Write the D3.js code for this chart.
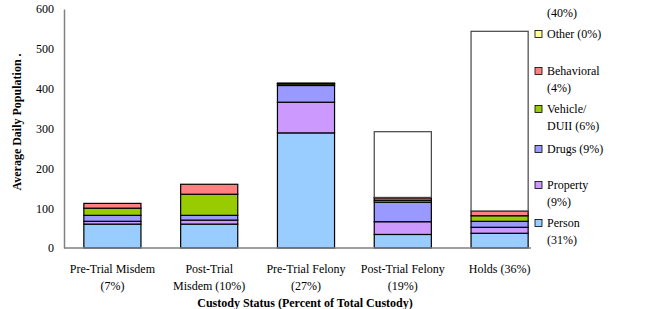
<!DOCTYPE html>
<html><head><meta charset="utf-8">
<script src="https://cdn.jsdelivr.net/npm/d3@7"></script>
<style>body{margin:0;background:#fff}svg{display:block}text{font-family:"Liberation Serif","Times New Roman",serif;}</style>
</head><body><div id="chart"></div>
<script>
const categories = ["Pre-Trial Misdem (7%)","Post-Trial Misdem (10%)","Pre-Trial Felony (27%)","Post-Trial Felony (19%)","Holds (36%)"];
const categoryLines = [["Pre-Trial Misdem","(7%)"],["Post-Trial","Misdem (10%)"],["Pre-Trial Felony","(27%)"],["Post-Trial Felony","(19%)"],["Holds (36%)"]];
const seriesNames = ["Person","Property","Drugs","Vehicle/DUII","Behavioral","Other","Unknown"];
const legendLines = [["Person","(31%)"],["Property","(9%)"],["Drugs (9%)"],["Vehicle/","DUII (6%)"],["Behavioral","(4%)"],["Other (0%)"],["(40%)"]];
const person     = [60, 60, 289, 34, 37];
const property   = [7, 10, 77, 32, 15];
const drugs      = [15, 12, 42, 49, 15];
const vehicle    = [18, 53, 4, 5, 14];
const behavioral = [12, 25, 1, 6, 12];
const other      = [0, 0, 1, 1, 0];
const unknown    = [0, 0, 0, 165, 451];
const yTicks = [0,100,200,300,400,500,600];
const colors = ["#99CCFF","#CC99FF","#9999FF","#99CC00","#FF8080","#FFFF99","#FFFFFF"];

const W=668,H=309;
const svg=d3.select("#chart").append("svg").attr("width",W).attr("height",H);
const series=[person,property,drugs,vehicle,behavioral,other,unknown];
const table=categories.map((c,i)=>{const o={cat:c};seriesNames.forEach((s,j)=>o[s]=series[j][i]);return o;});
const stack=d3.stack().keys(seriesNames)(table);

const y=d3.scaleLinear().domain([0,600]).range([248,9]);
const x=d3.scaleBand().domain(categories).range([64,548]).paddingInner(0.41).paddingOuter(0.205);

// bars
stack.forEach((layer,j)=>{
  svg.append("g").selectAll("rect").data(layer.filter(d=>d[1]-d[0]>0)).join("rect")
    .attr("x",d=>x(d.data.cat)).attr("width",x.bandwidth())
    .attr("y",d=>y(d[1])).attr("height",d=>y(d[0])-y(d[1]))
    .attr("fill",colors[j]).attr("stroke",j===6?"#444":"#000").attr("stroke-width",1.2);
});

// axes
const yAxis=d3.axisLeft(y).tickValues(yTicks).tickSize(0).tickPadding(10);
const gy=svg.append("g").attr("transform","translate(64,0)").call(yAxis);
gy.attr("font-family",null);
gy.select(".domain").attr("stroke","#808080").attr("stroke-width",1.5);
gy.selectAll("text").attr("font-size",12).attr("fill","#000");
svg.append("line").attr("x1",64).attr("x2",531).attr("y1",y(0)).attr("y2",y(0)).attr("stroke","#808080").attr("stroke-width",1.5);

// category labels
categories.forEach((c,i)=>{
  const t=svg.append("text").attr("x",x(c)+x.bandwidth()/2).attr("y",273).attr("text-anchor","middle").attr("font-size",12);
  categoryLines[i].forEach((l,k)=>t.append("tspan").attr("x",x(c)+x.bandwidth()/2).attr("dy",k?17:0).text(l));
});

svg.append("text").attr("x",305).attr("y",307).attr("text-anchor","middle").attr("font-size",12).attr("font-weight","bold").text("Custody Status (Percent of Total Custody)");
svg.append("text").attr("transform","translate(21,122) rotate(-90)").attr("text-anchor","middle").attr("font-size",12).attr("font-weight","bold").text("Average Daily Population .");

// legend
const legY=[223,185,149,109,71,34,-4];
seriesNames.forEach((s,j)=>{
  const g=svg.append("g").attr("transform",`translate(535,${legY[j]})`);
  if(j<6) g.append("rect").attr("x",0).attr("y",-3.5).attr("width",7).attr("height",7).attr("fill",colors[j]).attr("stroke","#000").attr("stroke-width",0.8);
  const t=g.append("text").attr("x",12).attr("y",4).attr("font-size",12);
  if(j===6){ t.attr("y",20.5).text(legendLines[j][0]); }
  else legendLines[j].forEach((l,k)=>t.append("tspan").attr("x",12).attr("dy",k?16.5:0).text(l));
});
</script></body></html>
